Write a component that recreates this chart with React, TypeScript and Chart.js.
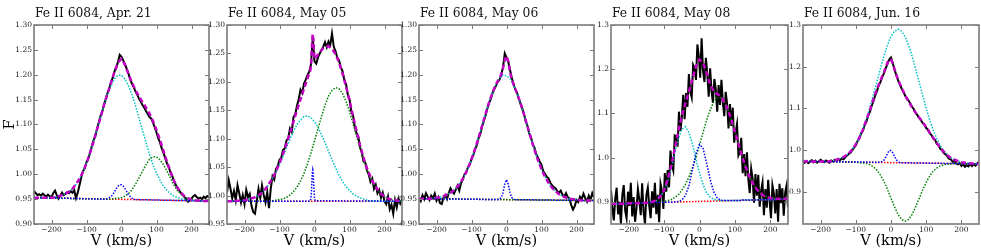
import React, { useEffect, useRef } from 'react';
import { Chart, registerables } from 'chart.js';

Chart.register(...registerables);

// ---------- shared grids ----------
const VEND = [-250, 250];
const V10 = [
  -250, -240, -230, -220, -210, -200, -190, -180, -170, -160,
  -150, -140, -130, -120, -110, -100, -90, -80, -70, -60,
  -50, -40, -30, -20, -10, 0, 10, 20, 30, 40,
  50, 60, 70, 80, 90, 100, 110, 120, 130, 140,
  150, 160, 170, 180, 190, 200, 210, 220, 230, 240,
  250,
];
const V5 = [
  -250, -245, -240, -235, -230, -225, -220, -215, -210, -205,
  -200, -195, -190, -185, -180, -175, -170, -165, -160, -155,
  -150, -145, -140, -135, -130, -125, -120, -115, -110, -105,
  -100, -95, -90, -85, -80, -75, -70, -65, -60, -55,
  -50, -45, -40, -35, -30, -25, -20, -15, -10, -5,
  0, 5, 10, 15, 20, 25, 30, 35, 40, 45,
  50, 55, 60, 65, 70, 75, 80, 85, 90, 95,
  100, 105, 110, 115, 120, 125, 130, 135, 140, 145,
  150, 155, 160, 165, 170, 175, 180, 185, 190, 195,
  200, 205, 210, 215, 220, 225, 230, 235, 240, 245,
  250,
];
const V4 = [
  -250, -246, -242, -238, -234, -230, -226, -222, -218, -214,
  -210, -206, -202, -198, -194, -190, -186, -182, -178, -174,
  -170, -166, -162, -158, -154, -150, -146, -142, -138, -134,
  -130, -126, -122, -118, -114, -110, -106, -102, -98, -94,
  -90, -86, -82, -78, -74, -70, -66, -62, -58, -54,
  -50, -46, -42, -38, -34, -30, -26, -22, -18, -14,
  -10, -6, -2, 2, 6, 10, 14, 18, 22, 26,
  30, 34, 38, 42, 46, 50, 54, 58, 62, 66,
  70, 74, 78, 82, 86, 90, 94, 98, 102, 106,
  110, 114, 118, 122, 126, 130, 134, 138, 142, 146,
  150, 154, 158, 162, 166, 170, 174, 178, 182, 186,
  190, 194, 198, 202, 206, 210, 214, 218, 222, 226,
  230, 234, 238, 242, 246, 250,
];

const X_TICKS = [-200, -100, 0, 100, 200];
const Y_TICKS_A = [0.9, 0.95, 1.0, 1.05, 1.1, 1.15, 1.2, 1.25, 1.3];
const Y_TICKS_B = [0.95, 1.0, 1.05, 1.1, 1.15, 1.2, 1.25, 1.3];
const Y_TICKS_C = [0.9, 1.0, 1.1, 1.2, 1.3];

// ---------- Apr. 21 ----------
const apr21Obs = [
  0.966, 0.962, 0.958, 0.960, 0.957, 0.961, 0.958, 0.955, 0.959, 0.956,
  0.954, 0.962, 0.967, 0.958, 0.951, 0.957, 0.963, 0.958, 0.961, 0.964,
  0.962, 0.966, 0.963, 0.968, 0.952, 0.963, 0.978, 0.994, 1.006, 1.012,
  1.024, 1.031, 1.043, 1.056, 1.068, 1.076, 1.091, 1.104, 1.117, 1.126,
  1.140, 1.151, 1.163, 1.172, 1.185, 1.194, 1.207, 1.214, 1.226, 1.240,
  1.236, 1.229, 1.221, 1.212, 1.202, 1.190, 1.182, 1.175, 1.166, 1.160,
  1.152, 1.146, 1.139, 1.134, 1.127, 1.121, 1.115, 1.112, 1.104, 1.094,
  1.084, 1.072, 1.064, 1.052, 1.043, 1.032, 1.022, 1.014, 1.004, 0.996,
  0.986, 0.979, 0.972, 0.967, 0.962, 0.958, 0.954, 0.950, 0.945, 0.947,
  0.951, 0.956, 0.958, 0.954, 0.951, 0.953, 0.950, 0.955, 0.952, 0.956,
  0.954,
];
const apr21Fit = [
  0.953, 0.953, 0.953, 0.953, 0.953, 0.953, 0.954, 0.956, 0.958, 0.961,
  0.965, 0.971, 0.980, 0.991, 1.005, 1.022, 1.043, 1.065, 1.090, 1.114,
  1.139, 1.162, 1.184, 1.206, 1.225, 1.232, 1.220, 1.201, 1.184, 1.169,
  1.157, 1.145, 1.134, 1.122, 1.107, 1.089, 1.069, 1.047, 1.025, 1.005,
  0.987, 0.973, 0.963, 0.956, 0.952, 0.949, 0.947, 0.947, 0.946, 0.946,
  0.946,
];
const apr21Cyan = [
  0.953, 0.953, 0.953, 0.953, 0.953, 0.953, 0.954, 0.956, 0.958, 0.961,
  0.965, 0.971, 0.980, 0.991, 1.005, 1.022, 1.043, 1.066, 1.090, 1.114,
  1.139, 1.161, 1.179, 1.192, 1.199, 1.199, 1.191, 1.178, 1.160, 1.138,
  1.113, 1.088, 1.064, 1.040, 1.019, 1.002, 0.988, 0.976, 0.968, 0.961,
  0.956, 0.953, 0.951, 0.949, 0.948, 0.948, 0.947, 0.946, 0.946, 0.946,
  0.946,
];
const apr21Green = [
  0.953, 0.953, 0.953, 0.953, 0.952, 0.952, 0.952, 0.952, 0.952, 0.952,
  0.952, 0.951, 0.951, 0.951, 0.951, 0.951, 0.951, 0.951, 0.950, 0.950,
  0.950, 0.950, 0.950, 0.951, 0.952, 0.953, 0.956, 0.961, 0.969, 0.980,
  0.993, 1.006, 1.019, 1.030, 1.035, 1.035, 1.029, 1.019, 1.006, 0.992,
  0.978, 0.967, 0.960, 0.954, 0.951, 0.949, 0.948, 0.946, 0.946, 0.946,
  0.946,
];
const apr21BlueV = [-250, -50, -40, -35, -30, -25, -20, -15, -10, -5, 0, 5, 10, 15, 20, 25, 30, 35, 40, 50, 250];
const apr21Blue = [0.953, 0.950, 0.951, 0.953, 0.955, 0.959, 0.965, 0.971, 0.976, 0.979, 0.979, 0.976, 0.971, 0.965, 0.959, 0.955, 0.952, 0.950, 0.949, 0.949, 0.946];
const apr21Red = [0.953, 0.946];

// ---------- May 05 ----------
const may05Obs = [
  1.005, 1.027, 1.012, 0.995, 1.008, 0.992, 1.018, 1.004, 0.988, 1.001,
  0.985, 1.010, 0.997, 1.003, 0.982, 0.971, 0.968, 0.990, 1.012, 0.996,
  1.018, 1.001, 0.988, 1.006, 0.978, 1.012, 1.034, 1.028, 1.047, 1.052,
  1.063, 1.066, 1.080, 1.083, 1.097, 1.101, 1.118, 1.112, 1.138, 1.143,
  1.158, 1.170, 1.186, 1.180, 1.197, 1.204, 1.212, 1.218, 1.231, 1.278,
  1.236, 1.232, 1.243, 1.250, 1.256, 1.262, 1.270, 1.261, 1.271, 1.265,
  1.285, 1.262, 1.254, 1.243, 1.238, 1.226, 1.219, 1.204, 1.196, 1.178,
  1.170, 1.148, 1.142, 1.121, 1.110, 1.104, 1.085, 1.076, 1.060, 1.058,
  1.044, 1.037, 1.024, 1.030, 1.012, 1.019, 1.004, 1.010, 0.996, 1.005,
  0.990, 0.985, 0.998, 0.976, 0.984, 0.968, 0.992, 0.979, 0.995, 0.986,
  0.993,
];
const may05FitV = [
  -250, -240, -230, -220, -210, -200, -190, -180, -170, -160,
  -150, -140, -130, -120, -110, -100, -90, -80, -70, -60,
  -50, -40, -30, -20,
  -12, -10, -9, -8, -7, -6, -5, -4, -3, -2, -1, 0, 2,
  10, 20, 30, 40, 50, 60, 70, 80, 90, 100,
  110, 120, 130, 140, 150, 160, 170, 180, 190, 200,
  210, 220, 230, 240, 250,
];
const may05Fit = [
  0.990, 0.990, 0.990, 0.991, 0.991, 0.992, 0.993, 0.995, 0.997, 1.001,
  1.005, 1.012, 1.021, 1.030, 1.043, 1.057, 1.073, 1.091, 1.110, 1.130,
  1.150, 1.169, 1.188, 1.206,
  1.220, 1.229, 1.239, 1.252, 1.266, 1.278, 1.284, 1.281, 1.272, 1.260, 1.250, 1.243, 1.240,
  1.248, 1.256, 1.262, 1.263, 1.258, 1.249, 1.234, 1.215, 1.192, 1.167,
  1.140, 1.114, 1.089, 1.067, 1.048, 1.033, 1.020, 1.011, 1.003, 0.999,
  0.995, 0.993, 0.992, 0.991, 0.991,
];
const may05Cyan = [
  0.990, 0.990, 0.990, 0.991, 0.991, 0.992, 0.993, 0.995, 0.997, 1.001,
  1.005, 1.012, 1.020, 1.030, 1.041, 1.054, 1.069, 1.084, 1.099, 1.113,
  1.125, 1.133, 1.139, 1.140, 1.137, 1.130, 1.120, 1.107, 1.093, 1.078,
  1.063, 1.049, 1.036, 1.025, 1.016, 1.009, 1.003, 0.999, 0.996, 0.994,
  0.992, 0.991, 0.991, 0.990, 0.990, 0.990, 0.990, 0.990, 0.990, 0.990,
  0.990,
];
const may05Green = [
  0.990, 0.990, 0.990, 0.990, 0.990, 0.990, 0.990, 0.990, 0.990, 0.990,
  0.990, 0.990, 0.990, 0.991, 0.992, 0.993, 0.994, 0.997, 1.001, 1.007,
  1.015, 1.026, 1.039, 1.056, 1.075, 1.096, 1.118, 1.139, 1.159, 1.175,
  1.185, 1.190, 1.188, 1.180, 1.166, 1.148, 1.127, 1.105, 1.083, 1.063,
  1.046, 1.031, 1.019, 1.010, 1.003, 0.999, 0.995, 0.993, 0.992, 0.991,
  0.991,
];
const may05BlueV = [-250, -13, -12, -11, -10, -9, -8, -7, -6, -5, -4, -3, -2, -1, 0, 1, 2, 250];
const may05Blue = [0.990, 0.990, 0.991, 0.993, 0.997, 1.005, 1.017, 1.030, 1.041, 1.045, 1.041, 1.030, 1.017, 1.005, 0.997, 0.993, 0.991, 0.990];
const may05Red = [0.990, 0.990];

// ---------- May 06 ----------
const may06Obs = [
  0.952, 0.946, 0.958, 0.950, 0.962, 0.955, 0.948, 0.957, 0.952, 0.961,
  0.947, 0.954, 0.942, 0.940, 0.953, 0.958, 0.950, 0.962, 0.972, 0.965,
  0.961, 0.969, 0.977, 0.967, 0.982, 0.989, 1.000, 1.004, 1.014, 1.019,
  1.031, 1.038, 1.050, 1.058, 1.072, 1.080, 1.096, 1.106, 1.118, 1.131,
  1.143, 1.151, 1.163, 1.171, 1.178, 1.186, 1.190, 1.200, 1.215, 1.243,
  1.235, 1.226, 1.210, 1.194, 1.182, 1.170, 1.164, 1.152, 1.142, 1.132,
  1.121, 1.106, 1.097, 1.082, 1.074, 1.060, 1.053, 1.040, 1.034, 1.025,
  1.019, 1.006, 1.001, 0.995, 0.992, 0.983, 0.978, 0.974, 0.972, 0.966,
  0.963, 0.967, 0.959, 0.955, 0.962, 0.954, 0.951, 0.938, 0.929, 0.936,
  0.948, 0.944, 0.955, 0.950, 0.961, 0.952, 0.945, 0.957, 0.949, 0.962,
  0.953,
];
const may06FitV = [
  -250, -240, -230, -220, -210, -200, -190, -180, -170, -160,
  -150, -140, -130, -120, -110, -100, -90, -80, -70, -60,
  -50, -40, -30,
  -25, -20, -15, -10, -5, 0, 5, 10, 15, 20,
  30, 40, 50, 60, 70, 80, 90, 100, 110, 120,
  130, 140, 150, 160, 170, 180, 190, 200, 210, 220,
  230, 240, 250,
];
const may06Fit = [
  0.951, 0.951, 0.951, 0.951, 0.952, 0.953, 0.954, 0.956, 0.959, 0.963,
  0.968, 0.975, 0.985, 0.997, 1.012, 1.030, 1.051, 1.073, 1.097, 1.121,
  1.144, 1.164, 1.181,
  1.187, 1.194, 1.200, 1.213, 1.230, 1.238, 1.227, 1.206, 1.190, 1.181,
  1.163, 1.143, 1.120, 1.096, 1.072, 1.049, 1.028, 1.010, 0.995, 0.983,
  0.973, 0.966, 0.960, 0.956, 0.953, 0.951, 0.950, 0.949, 0.948, 0.947,
  0.947, 0.947, 0.947,
];
const may06Cyan = [
  0.951, 0.951, 0.951, 0.951, 0.952, 0.953, 0.954, 0.956, 0.959, 0.963,
  0.968, 0.975, 0.985, 0.997, 1.012, 1.030, 1.051, 1.073, 1.097, 1.121,
  1.144, 1.164, 1.181, 1.193, 1.199, 1.198, 1.192, 1.180, 1.163, 1.143,
  1.120, 1.096, 1.072, 1.049, 1.028, 1.010, 0.995, 0.983, 0.973, 0.966,
  0.960, 0.956, 0.953, 0.951, 0.950, 0.949, 0.948, 0.947, 0.947, 0.947,
  0.947,
];
const may06Green = [0.951, 0.947];
const may06BlueV = [-250, -25, -20, -15, -10, -5, 0, 5, 10, 15, 20, 25, 250];
const may06Blue = [0.951, 0.949, 0.950, 0.953, 0.963, 0.980, 0.989, 0.980, 0.963, 0.953, 0.950, 0.949, 0.947];
const may06Red = [0.951, 0.947];

// ---------- May 08 ----------
const may08Obs = [
  0.926, 0.886, 0.858, 0.908, 0.932, 0.872, 0.900, 0.850, 0.916, 0.938,
  0.880, 0.863, 0.923, 0.891, 0.943, 0.867, 0.911, 0.855, 0.885, 0.929,
  0.905, 0.870, 0.942, 0.878, 0.850, 0.916, 0.932, 0.891, 0.863, 0.924,
  0.887, 0.943, 0.872, 0.916, 0.854, 0.941, 0.925, 0.884, 0.965, 0.923,
  0.972, 0.933, 1.016, 0.984, 0.971, 1.050, 1.048, 1.025, 1.104, 1.060,
  1.090, 1.142, 1.087, 1.146, 1.115, 1.189, 1.149, 1.136, 1.210, 1.203,
  1.176, 1.256, 1.231, 1.181, 1.270, 1.197, 1.171, 1.226, 1.190, 1.138,
  1.202, 1.150, 1.124, 1.178, 1.155, 1.104, 1.164, 1.119, 1.176, 1.125,
  1.094, 1.149, 1.122, 1.066, 1.121, 1.072, 1.113, 1.034, 1.057, 1.076,
  1.005, 1.012, 1.045, 0.965, 1.008, 0.958, 1.012, 0.951, 0.920, 0.975,
  0.953, 0.898, 0.963, 0.914, 0.961, 0.889, 0.925, 0.944, 0.870, 0.929,
  0.887, 0.950, 0.901, 0.863, 0.938, 0.920, 0.874, 0.929, 0.855, 0.941,
  0.897, 0.931, 0.869, 0.921, 0.937, 0.887,
];
const may08Fit = [
  0.896, 0.896, 0.896, 0.896, 0.896, 0.897, 0.897, 0.897, 0.897, 0.898,
  0.898, 0.899, 0.901, 0.905, 0.913, 0.927, 0.950, 0.982, 1.020, 1.059,
  1.094, 1.123, 1.149, 1.178, 1.206, 1.222, 1.215, 1.191, 1.166, 1.151,
  1.144, 1.138, 1.126, 1.109, 1.086, 1.059, 1.031, 1.004, 0.980, 0.959,
  0.943, 0.930, 0.921, 0.915, 0.911, 0.909, 0.908, 0.907, 0.907, 0.907,
  0.907,
];
const may08Cyan = [
  0.896, 0.896, 0.896, 0.896, 0.896, 0.897, 0.897, 0.897, 0.897, 0.898,
  0.898, 0.899, 0.900, 0.904, 0.912, 0.925, 0.946, 0.975, 1.010, 1.042,
  1.064, 1.070, 1.057, 1.031, 0.997, 0.965, 0.939, 0.921, 0.911, 0.906,
  0.904, 0.903, 0.903, 0.903, 0.903, 0.903, 0.903, 0.904, 0.904, 0.904,
  0.904, 0.904, 0.905, 0.905, 0.905, 0.905, 0.905, 0.906, 0.906, 0.906,
  0.906,
];
const may08Blue = [
  0.896, 0.896, 0.896, 0.896, 0.896, 0.897, 0.897, 0.897, 0.897, 0.898,
  0.898, 0.898, 0.898, 0.898, 0.899, 0.899, 0.899, 0.899, 0.900, 0.901,
  0.904, 0.914, 0.936, 0.972, 1.009, 1.030, 1.021, 0.988, 0.951, 0.923,
  0.909, 0.904, 0.903, 0.903, 0.903, 0.903, 0.903, 0.904, 0.904, 0.904,
  0.904, 0.904, 0.905, 0.905, 0.905, 0.905, 0.905, 0.906, 0.906, 0.906,
  0.906,
];
const may08Green = [
  0.896, 0.896, 0.896, 0.896, 0.896, 0.897, 0.897, 0.897, 0.897, 0.898,
  0.898, 0.898, 0.898, 0.899, 0.900, 0.901, 0.903, 0.905, 0.910, 0.916,
  0.926, 0.939, 0.956, 0.977, 1.001, 1.029, 1.057, 1.084, 1.108, 1.126,
  1.135, 1.135, 1.126, 1.109, 1.086, 1.059, 1.031, 1.004, 0.980, 0.959,
  0.943, 0.930, 0.921, 0.915, 0.911, 0.909, 0.908, 0.907, 0.907, 0.907,
  0.907,
];
const may08Red = [0.896, 0.906];

// ---------- Jun. 16 ----------
const jun16Obs = [
  0.975, 0.970, 0.974, 0.969, 0.972, 0.976, 0.971, 0.975, 0.970, 0.973,
  0.977, 0.974, 0.971, 0.975, 0.972, 0.970, 0.975, 0.973, 0.977, 0.974,
  0.979, 0.976, 0.980, 0.978, 0.983, 0.987, 0.991, 0.994, 1.000, 1.006,
  1.011, 1.022, 1.028, 1.040, 1.046, 1.060, 1.068, 1.083, 1.092, 1.106,
  1.117, 1.131, 1.141, 1.155, 1.163, 1.175, 1.184, 1.196, 1.207, 1.217,
  1.222, 1.209, 1.193, 1.180, 1.168, 1.158, 1.148, 1.140, 1.131, 1.124,
  1.119, 1.112, 1.104, 1.098, 1.089, 1.084, 1.077, 1.072, 1.065, 1.061,
  1.053, 1.049, 1.040, 1.036, 1.028, 1.025, 1.015, 1.012, 1.003, 1.000,
  0.993, 0.990, 0.985, 0.979, 0.978, 0.972, 0.974, 0.968, 0.966, 0.969,
  0.962, 0.966, 0.960, 0.964, 0.961, 0.967, 0.962, 0.966, 0.963, 0.968,
  0.972,
];
const jun16FitV = [
  -250, -240, -230, -220, -210, -200, -190, -180, -170, -160,
  -150, -140, -130, -120, -110, -100, -90, -80, -70, -60,
  -50, -40, -30, -20, -10,
  -5, 0, 5,
  10, 20, 30, 40, 50, 60, 70, 80, 90, 100,
  110, 120, 130, 140, 150, 160, 170, 180, 190, 200,
  210, 220, 230, 240, 250,
];
const jun16Fit = [
  0.973, 0.973, 0.973, 0.973, 0.972, 0.973, 0.973, 0.973, 0.974, 0.976,
  0.978, 0.981, 0.986, 0.992, 1.002, 1.014, 1.030, 1.049, 1.072, 1.096,
  1.122, 1.146, 1.167, 1.187, 1.210,
  1.218, 1.217, 1.208,
  1.194, 1.169, 1.150, 1.132, 1.116, 1.102, 1.090, 1.078, 1.067, 1.055,
  1.042, 1.030, 1.017, 1.006, 0.996, 0.988, 0.981, 0.977, 0.974, 0.971,
  0.970, 0.969, 0.968, 0.967, 0.967,
];
const jun16Cyan = [
  0.973, 0.973, 0.973, 0.973, 0.973, 0.973, 0.973, 0.973, 0.974, 0.975,
  0.978, 0.981, 0.986, 0.992, 1.002, 1.014, 1.031, 1.051, 1.075, 1.102,
  1.133, 1.164, 1.196, 1.226, 1.252, 1.273, 1.285, 1.290, 1.285, 1.272,
  1.252, 1.225, 1.195, 1.163, 1.131, 1.100, 1.072, 1.048, 1.028, 1.011,
  0.999, 0.989, 0.982, 0.977, 0.974, 0.971, 0.970, 0.969, 0.968, 0.967,
  0.967,
];
const jun16Green = [
  0.973, 0.973, 0.973, 0.973, 0.972, 0.972, 0.972, 0.972, 0.972, 0.972,
  0.972, 0.972, 0.972, 0.971, 0.971, 0.971, 0.970, 0.969, 0.968, 0.965,
  0.960, 0.952, 0.940, 0.925, 0.906, 0.885, 0.864, 0.846, 0.834, 0.830,
  0.834, 0.846, 0.864, 0.884, 0.905, 0.923, 0.938, 0.950, 0.957, 0.962,
  0.965, 0.967, 0.967, 0.968, 0.968, 0.968, 0.967, 0.967, 0.967, 0.967,
  0.967,
];
const jun16BlueV = [-250, -30, -25, -20, -15, -10, -5, 0, 5, 10, 15, 20, 25, 250];
const jun16Blue = [0.973, 0.971, 0.973, 0.976, 0.983, 0.992, 0.999, 0.999, 0.994, 0.985, 0.977, 0.973, 0.970, 0.967];
const jun16Red = [0.973, 0.967];

// ---------- panel table (built from the arrays above) ----------
const PANELS = [
  {
    title: 'Fe II 6084, Apr. 21', left: 34, width: 175, yMin: 0.9, yMax: 1.3, yTicks: Y_TICKS_A, dec: 2, yLabel: true,
    obs: [V5, apr21Obs], fit: [V10, apr21Fit], blue: [apr21BlueV, apr21Blue], green: [V10, apr21Green], cyan: [V10, apr21Cyan], red: [VEND, apr21Red], obsWidth: 2,
  },
  {
    title: 'Fe II 6084, May 05', left: 227, width: 175, yMin: 0.95, yMax: 1.3, yTicks: Y_TICKS_B, dec: 2, yLabel: false,
    obs: [V5, may05Obs], fit: [may05FitV, may05Fit], blue: [may05BlueV, may05Blue], green: [V10, may05Green], cyan: [V10, may05Cyan], red: [VEND, may05Red], obsWidth: 2,
  },
  {
    title: 'Fe II 6084, May 06', left: 419, width: 175, yMin: 0.9, yMax: 1.3, yTicks: Y_TICKS_A, dec: 2, yLabel: false,
    obs: [V5, may06Obs], fit: [may06FitV, may06Fit], blue: [may06BlueV, may06Blue], green: [VEND, may06Green], cyan: [V10, may06Cyan], red: [VEND, may06Red], obsWidth: 2,
  },
  {
    title: 'Fe II 6084, May 08', left: 611, width: 177, yMin: 0.85, yMax: 1.3, yTicks: Y_TICKS_C, dec: 1, yLabel: false,
    obs: [V4, may08Obs], fit: [V10, may08Fit], blue: [V10, may08Blue], green: [V10, may08Green], cyan: [V10, may08Cyan], red: [VEND, may08Red], obsWidth: 2,
  },
  {
    title: 'Fe II 6084, Jun. 16', left: 803, width: 176, yMin: 0.823, yMax: 1.3, yTicks: Y_TICKS_C, dec: 1, yLabel: false,
    obs: [V5, jun16Obs], fit: [jun16FitV, jun16Fit], blue: [jun16BlueV, jun16Blue], green: [V10, jun16Green], cyan: [V10, jun16Cyan], red: [VEND, jun16Red], obsWidth: 2,
  },
];

const AXIS_W = 34;
const AXIS_H = 28;
const TOP = 25;
const RIGHT_PAD = 3;
const SERIF = '"DejaVu Serif", serif';

const pts = (pair: number[][]) => pair[0].map((x, i) => ({ x, y: pair[1][i] }));

const framePlugin = {
  id: 'panelFrame',
  afterDatasetsDraw(chart: any, _args: any, opts: any) {
    const { ctx, chartArea: a, scales } = chart;
    const xs = scales.x;
    const ys = scales.y;
    ctx.save();
    ctx.strokeStyle = '#7a7a7a';
    ctx.lineWidth = 1;
    ctx.beginPath();
    for (const v of opts.xTicks) {
      const p = Math.round(xs.getPixelForValue(v)) + 0.5;
      ctx.moveTo(p, a.bottom);
      ctx.lineTo(p, a.bottom - 4);
      ctx.moveTo(p, a.top);
      ctx.lineTo(p, a.top + 4);
    }
    for (const v of opts.yTicks) {
      const p = Math.round(ys.getPixelForValue(v)) + 0.5;
      ctx.moveTo(a.left, p);
      ctx.lineTo(a.left + 4, p);
      ctx.moveTo(a.right, p);
      ctx.lineTo(a.right - 4, p);
    }
    ctx.stroke();
    ctx.lineWidth = 1.6;
    ctx.strokeRect(a.left, a.top, a.right - a.left, a.bottom - a.top);
    ctx.fillStyle = '#111';
    ctx.font = '12.3px ' + SERIF;
    ctx.textAlign = 'left';
    ctx.textBaseline = 'alphabetic';
    ctx.fillText(opts.title, a.left + 1, 17);
    ctx.restore();
  },
};

function line(data: any[], color: string, width: number, dash: number[]) {
  return {
    data,
    borderColor: color,
    backgroundColor: color,
    borderWidth: width,
    borderDash: dash,
    pointRadius: 0,
    pointHoverRadius: 0,
    fill: false,
    tension: 0,
    clip: 0,
  };
}

function Panel({ p }: { p: any }) {
  const ref = useRef<HTMLCanvasElement | null>(null);
  const w = AXIS_W + p.width + RIGHT_PAD;
  useEffect(() => {
    if (!ref.current) return;
    const tickFont = { family: SERIF, size: 7.5 };
    const chart = new Chart(ref.current, {
      type: 'line',
      data: {
        datasets: [
          line(pts(p.fit), '#c400c4', 2.5, [5, 3]),
          line(pts(p.blue), '#0000ff', 1.5, [1.5, 1.5]),
          line(pts(p.green), '#008000', 1.5, [1.5, 1.5]),
          line(pts(p.cyan), '#00c0c0', 1.5, [1.5, 1.5]),
          line(pts(p.red), '#ff0000', 1.5, [1.5, 1.5]),
          line(pts(p.obs), '#000000', p.obsWidth, []),
        ],
      },
      options: {
        responsive: false,
        maintainAspectRatio: false,
        animation: false,
        events: [],
        layout: { padding: { top: TOP, right: RIGHT_PAD, bottom: 0, left: 0 } },
        plugins: {
          legend: { display: false },
          tooltip: { enabled: false },
          title: { display: false },
          panelFrame: { title: p.title, xTicks: X_TICKS, yTicks: p.yTicks },
        } as any,
        scales: {
          x: {
            type: 'linear',
            position: 'bottom',
            min: -250,
            max: 250,
            grid: { display: false, drawTicks: false },
            border: { display: false },
            afterBuildTicks: (axis: any) => {
              axis.ticks = X_TICKS.map((value) => ({ value }));
            },
            afterFit: (s: any) => {
              s.height = AXIS_H;
            },
            ticks: {
              autoSkip: false,
              maxRotation: 0,
              padding: 2,
              color: '#222',
              font: tickFont,
              callback: (v: any) => (v < 0 ? '\u2212' + Math.abs(v) : String(v)),
            },
            title: {
              display: true,
              text: 'V (km/s)',
              color: '#000',
              font: { family: SERIF, size: 14.5 },
              padding: { top: 0, bottom: 2 },
            },
          },
          y: {
            type: 'linear',
            position: 'left',
            min: p.yMin,
            max: p.yMax,
            grid: { display: false, drawTicks: false },
            border: { display: false },
            afterBuildTicks: (axis: any) => {
              axis.ticks = p.yTicks.map((value: number) => ({ value }));
            },
            afterFit: (s: any) => {
              s.width = AXIS_W;
            },
            ticks: {
              autoSkip: false,
              padding: 2,
              color: '#222',
              font: tickFont,
              callback: (v: any) => Number(v).toFixed(p.dec),
            },
            title: {
              display: p.yLabel,
              text: 'F',
              color: '#000',
              font: { family: SERIF, size: 14.5 },
              padding: { top: 2, bottom: 0 },
            },
          },
        },
      } as any,
      plugins: [framePlugin as any],
    });
    return () => chart.destroy();
  }, []);
  return (
    <canvas
      ref={ref}
      width={w}
      height={252}
      style={{ position: 'absolute', left: p.left - AXIS_W, top: 0, width: w, height: 252 }}
    />
  );
}

export default function App() {
  return (
    <div style={{ position: 'absolute', left: 0, top: 0, width: 981, height: 252, background: '#fff', overflow: 'hidden' }}>
      {PANELS.map((p, i) => (
        <Panel key={i} p={p} />
      ))}
    </div>
  );
}
